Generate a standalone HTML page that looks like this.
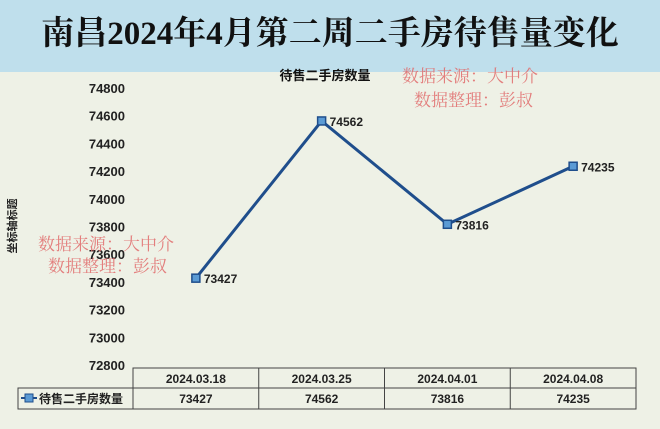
<!DOCTYPE html>
<html><head><meta charset="utf-8"><style>
body{margin:0;width:660px;height:429px;overflow:hidden;background:#eef1e6;font-family:"Liberation Sans","Noto Sans CJK SC",sans-serif}
#title{position:absolute;left:0;top:0;width:660px;height:72px;background:#bfdfec;text-align:center;line-height:68px;font-family:"Liberation Serif","Noto Serif CJK SC",serif;font-size:33px;font-weight:bold;color:#111}
svg{position:absolute;left:0;top:0}
</style></head><body>
<div id="title">南昌2024年4月第二周二手房待售量变化</div>
<svg width="660" height="429">
<g id="g"></g>
</svg>
<script>
const categories=["2024.03.18","2024.03.25","2024.04.01","2024.04.08"];
const values=[73427,74562,73816,74235];
const ticks=[72800,73000,73200,73400,73600,73800,74000,74200,74400,74600,74800];
const seriesName="待售二手房数量";
const NS="http://www.w3.org/2000/svg";
const g=document.getElementById('g');
const x0=133,x1=636,yTop=88,yBot=365,vMin=72800,vMax=74800;
const bw=(x1-x0)/categories.length;
function xs(i){return x0+bw*(i+0.5);}
function ys(v){return yBot-(v-vMin)/(vMax-vMin)*(yBot-yTop);}
function el(t,a,txt){const e=document.createElementNS(NS,t);for(const k in a)e.setAttribute(k,a[k]);if(txt!==undefined)e.textContent=txt;g.appendChild(e);return e;}
ticks.forEach(t=>{const e=el('text',{x:125,y:ys(t)+5,'text-anchor':'end','font-size':13,'font-weight':'bold',fill:'#222'},t);

});
let e=el('text',{x:16,y:226,'font-size':11,'font-weight':'bold',fill:'#222',transform:'rotate(-90 16 226)','text-anchor':'middle'},'坐标轴标题');


e=el('text',{x:325,y:80,'text-anchor':'middle','font-size':13,'font-weight':'bold',fill:'#111'},seriesName);


const pts=values.map((v,i)=>xs(i)+','+ys(v)).join(' ');
e=el('polyline',{points:pts,fill:'none',stroke:'#1f4e8c','stroke-width':3});


values.forEach((v,i)=>{
 let m=el('rect',{x:xs(i)-4,y:ys(v)-4,width:8,height:8,fill:'#5b9bd5',stroke:'#1f4e8c','stroke-width':1.5});
 
 
 let l=el('text',{x:xs(i)+8,y:ys(v)+5,'font-size':12,'font-weight':'bold',fill:'#222'},v);
 
 
});
// table
const tT=368,tM=388,tB=409;
el('rect',{x:x0,y:tT,width:x1-x0,height:tB-tT,fill:'none',stroke:'#444'});
el('rect',{x:18,y:tM,width:x1-18,height:tB-tM,fill:'none',stroke:'#444'});
for(let i=1;i<categories.length;i++)el('line',{x1:x0+bw*i,y1:tT,x2:x0+bw*i,y2:tB,stroke:'#444'});
el('line',{x1:x0,y1:tT,x2:x0,y2:tB,stroke:'#444'});
categories.forEach((c,i)=>{
 let t=el('text',{x:xs(i),y:tT+15,'text-anchor':'middle','font-size':12,'font-weight':'bold',fill:'#222'},c);
 
 
 t=el('text',{x:xs(i),y:tM+15,'text-anchor':'middle','font-size':12,'font-weight':'bold',fill:'#222'},values[i]);
 
 
});
el('line',{x1:21,y1:tM+10,x2:37,y2:tM+10,stroke:'#1f4e8c','stroke-width':2});
el('rect',{x:25,y:tM+6,width:8,height:8,fill:'#5b9bd5',stroke:'#1f4e8c'});
e=el('text',{x:39,y:tM+15,'font-size':12,'font-weight':'bold',fill:'#222'},seriesName);


// watermarks
[[402,82,'数据来源：大中介'],[414,106,'数据整理：彭叔'],[38,250,'数据来源：大中介'],[48,272,'数据整理：彭叔']].forEach(w=>{
 let t=el('text',{x:w[0],y:w[1],'font-size':17,fill:'#e06a6a','fill-opacity':0.85,'font-family':'"Liberation Serif","Noto Serif CJK SC",serif'},w[2]);
 
 
});
</script>
</body></html>
